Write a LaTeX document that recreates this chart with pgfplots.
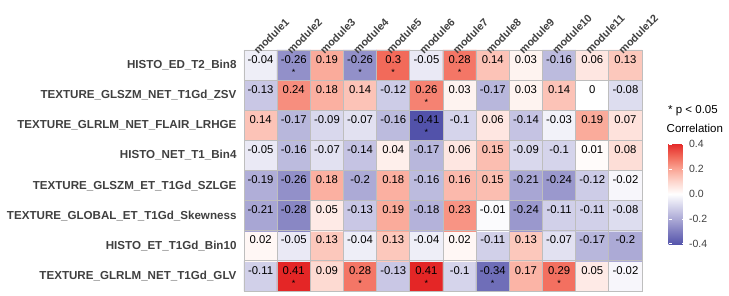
\documentclass[border=0pt]{standalone}
\usepackage{pgfplots}
\pgfplotsset{compat=1.18}
\usepackage{pgfplotstable}
\usepackage{fontspec}
\setmainfont{Liberation Sans}
\definecolor{labgrey}{RGB}{64,64,64}
\definecolor{gridgrey}{RGB}{190,190,190}

\pgfplotstableread{
x y v
1 1 -0.11
2 1 0.41
3 1 0.09
4 1 0.28
5 1 -0.13
6 1 0.41
7 1 -0.1
8 1 -0.34
9 1 0.17
10 1 0.29
11 1 0.05
12 1 -0.02
1 2 0.02
2 2 -0.05
3 2 0.13
4 2 -0.04
5 2 0.13
6 2 -0.04
7 2 0.02
8 2 -0.11
9 2 0.13
10 2 -0.07
11 2 -0.17
12 2 -0.2
1 3 -0.21
2 3 -0.28
3 3 0.05
4 3 -0.13
5 3 0.19
6 3 -0.18
7 3 0.23
8 3 -0.01
9 3 -0.24
10 3 -0.11
11 3 -0.11
12 3 -0.08
1 4 -0.19
2 4 -0.26
3 4 0.18
4 4 -0.2
5 4 0.18
6 4 -0.16
7 4 0.16
8 4 0.15
9 4 -0.21
10 4 -0.24
11 4 -0.12
12 4 -0.02
1 5 -0.05
2 5 -0.16
3 5 -0.07
4 5 -0.14
5 5 0.04
6 5 -0.17
7 5 0.06
8 5 0.15
9 5 -0.09
10 5 -0.1
11 5 0.01
12 5 0.08
1 6 0.14
2 6 -0.17
3 6 -0.09
4 6 -0.07
5 6 -0.16
6 6 -0.41
7 6 -0.1
8 6 0.06
9 6 -0.14
10 6 -0.03
11 6 0.19
12 6 0.07
1 7 -0.13
2 7 0.24
3 7 0.18
4 7 0.14
5 7 -0.12
6 7 0.26
7 7 0.03
8 7 -0.17
9 7 0.03
10 7 0.14
11 7 0
12 7 -0.08
1 8 -0.04
2 8 -0.26
3 8 0.19
4 8 -0.26
5 8 0.3
6 8 -0.05
7 8 0.28
8 8 0.14
9 8 0.03
10 8 -0.16
11 8 0.06
12 8 0.13
}\corrtable

\pgfplotstableread{
x y
2 8
4 8
5 8
7 8
6 7
6 6
2 1
4 1
6 1
8 1
10 1
}\startable

\begin{document}
\begin{tikzpicture}
\useasboundingbox (-244pt,-5pt) rectangle (485pt,291pt);
\begin{axis}[
  at={(0,0)}, anchor=south west,
  scale only axis, width=398pt, height=241pt,
  xmin=0.5, xmax=12.5, ymin=0.5, ymax=8.5,
  enlargelimits=false, clip=false, axis on top,
  colormap={corr}{rgb255(0pt)=(82,82,170); rgb255(11pt)=(128,126,192); rgb255(21pt)=(172,170,214); rgb255(31pt)=(213,212,235); rgb255(41pt)=(255,255,255); rgb255(51pt)=(253,214,205); rgb255(61pt)=(250,166,150); rgb255(71pt)=(242,106,90); rgb255(82pt)=(228,38,38)},
  point meta min=-0.41, point meta max=0.41,
  xtick={1,...,12},
  xticklabels={module1,module2,module3,module4,module5,module6,module7,module8,module9,module10,module11,module12},
  xticklabel pos=upper,
  xticklabel style={rotate=45, anchor=south west, inner sep=0pt, xshift=-5pt, yshift=-2pt, font=\fontsize{10.8}{13}\selectfont\bfseries, text=labgrey},
  ytick={1,...,8},
  yticklabels={TEXTURE\_GLRLM\_NET\_T1Gd\_GLV, HISTO\_ET\_T1Gd\_Bin10, TEXTURE\_GLOBAL\_ET\_T1Gd\_Skewness, TEXTURE\_GLSZM\_ET\_T1Gd\_SZLGE, HISTO\_NET\_T1\_Bin4, TEXTURE\_GLRLM\_NET\_FLAIR\_LRHGE, TEXTURE\_GLSZM\_NET\_T1Gd\_ZSV, HISTO\_ED\_T2\_Bin8},
  yticklabel style={font=\fontsize{11.6}{13}\selectfont\bfseries, text=labgrey, xshift=-4pt},
  major tick length=0pt,
  minor xtick={0.5,1.5,...,12.5},
  minor ytick={0.5,1.5,...,8.5},
  minor tick length=0pt,
  xminorgrids=true, yminorgrids=true,
  minor grid style={gridgrey, line width=0.9pt},
  axis line style={gridgrey, line width=0.9pt},
  colorbar right,
  colorbar style={
    at={(parent axis.south east)}, anchor=south west,
    xshift=18pt, yshift=46pt,
    scale only axis, width=16pt, height=102pt,
    ytick={-0.4,-0.2,0,0.2,0.4},
    yticklabel style={font=\fontsize{10.5}{12}\selectfont, text=labgrey, /pgf/number format/fixed, /pgf/number format/fixed zerofill, /pgf/number format/precision=1, xshift=1pt},
    /pgf/number format/assume math mode=true,
    axis line style={draw=none},
    tick align=inside, major tick length=3pt,
    ytick style={white, line width=0.6pt},
    ytick pos=both, yticklabel pos=right,
    title={Correlation},
    title style={at={(0,1)}, anchor=south west, xshift=-2pt, yshift=4pt, inner sep=0pt, font=\fontsize{11.5}{13}\selectfont},
  },
]
\addplot[matrix plot*, mesh/cols=12, point meta=explicit] table[x=x, y=y, meta=v] {\corrtable};
\addplot[only marks, mark=none, nodes near coords, point meta=explicit symbolic,
  nodes near coords style={anchor=center, yshift=5.7pt, font=\fontsize{11.3}{12}\selectfont, text=black, inner sep=0pt}]
  table[x=x, y=y, meta=v] {\corrtable};
\addplot[only marks, mark=none, nodes near coords={*}, 
  nodes near coords style={anchor=center, yshift=-7.5pt, font=\fontsize{9}{10}\selectfont, text=black, inner sep=0pt}]
  table[x=x, y=y] {\startable};
\node[anchor=west, inner sep=0pt, font=\fontsize{11.5}{13}\selectfont] at (rel axis cs:1,1) [xshift=26pt, yshift=-61pt] {* p < 0.05};
\end{axis}
\end{tikzpicture}
\end{document}
